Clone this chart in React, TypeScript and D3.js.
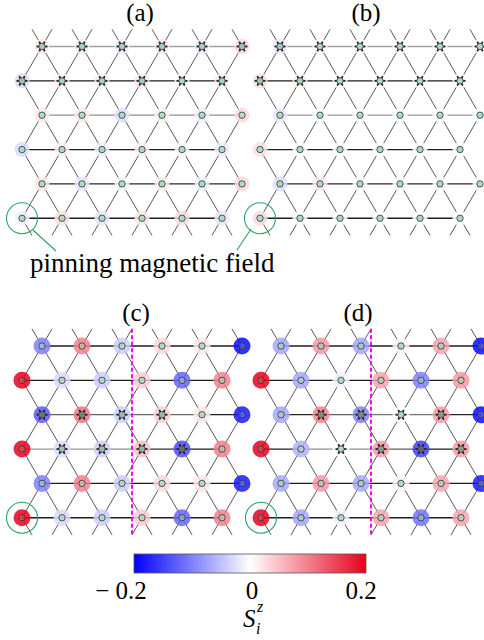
import { useMemo } from 'react';
import * as d3 from 'd3';

// S^z_i on a 6x6 triangular lattice, rows top to bottom, sites left to right
const SPIN_A = [
  [0.02, -0.015, -0.015, 0.02, -0.015, 0.03],
  [-0.03, 0.012, -0.012, 0.02, 0.0, -0.012],
  [0.02, 0.02, -0.025, 0.012, -0.012, 0.03],
  [-0.03, 0.012, -0.012, 0.012, 0.0, -0.015],
  [0.02, -0.018, -0.006, 0.012, -0.012, 0.03],
  [-0.012, 0.025, -0.018, 0.02, 0.03, -0.018],
];
const SPIN_B = [
  [-0.02, 0.006, 0.0, 0.0, 0.0, 0.0],
  [0.025, 0.012, 0.0, 0.0, 0.0, 0.0],
  [-0.02, 0.0, 0.0, 0.0, 0.0, 0.0],
  [0.025, 0.0, 0.0, 0.0, 0.0, 0.0],
  [-0.025, 0.018, 0.0, 0.0, 0.0, 0.0],
  [0.03, -0.006, 0.0, 0.0, 0.0, 0.0],
];
const SPIN_C = [
  [-0.1, 0.1, -0.04, 0.03, 0.02, -0.19],
  [0.2, -0.03, -0.04, 0.04, -0.12, 0.1],
  [-0.13, 0.11, -0.04, 0.04, 0.02, -0.18],
  [0.2, -0.03, -0.04, 0.05, -0.14, 0.1],
  [-0.1, 0.1, -0.04, 0.03, 0.02, -0.18],
  [0.2, -0.03, -0.04, 0.04, -0.12, 0.1],
];
const SPIN_D = [
  [-0.07, 0.08, -0.07, 0.01, 0.07, -0.19],
  [0.2, -0.07, -0.01, 0.07, -0.1, 0.08],
  [-0.07, 0.1, -0.1, 0.0, 0.08, -0.19],
  [0.2, -0.06, 0.0, 0.08, -0.15, 0.08],
  [-0.07, 0.08, -0.07, 0.01, 0.07, -0.18],
  [0.2, -0.07, -0.01, 0.07, -0.11, 0.07],
];

// horizontal bond darkness (0 light .. 1 dark), 5 bonds per row
const BOND_A = [
  [0.25, 0.25, 0.25, 0.25, 0.25],
  [0.95, 0.95, 0.95, 0.95, 0.95],
  [0.35, 0.35, 0.35, 0.35, 0.35],
  [0.95, 0.95, 0.95, 0.95, 0.95],
  [0.9, 0.9, 0.9, 0.9, 0.9],
  [0.95, 0.95, 0.95, 0.95, 0.95],
];
const BOND_B = [
  [0.25, 0.25, 0.25, 0.25, 0.25],
  [0.95, 0.95, 0.95, 0.95, 0.95],
  [0.3, 0.3, 0.3, 0.3, 0.3],
  [0.95, 0.95, 0.95, 0.95, 0.95],
  [0.9, 0.9, 0.9, 0.9, 0.9],
  [0.95, 0.95, 0.95, 0.95, 0.95],
];
const BOND_C = [
  [0.95, 0.95, 0.95, 0.95, 0.95],
  [0.95, 0.95, 0.95, 0.95, 0.95],
  [0.6, 0.6, 0.55, 0.55, 0.95],
  [0.3, 0.3, 0.35, 0.85, 0.95],
  [0.95, 0.95, 0.95, 0.95, 0.95],
  [0.95, 0.95, 0.95, 0.95, 0.95],
];
const BOND_D = [
  [0.95, 0.95, 0.95, 0.95, 0.95],
  [0.95, 0.95, 0.95, 0.95, 0.95],
  [0.9, 0.6, 0.5, 0.5, 0.9],
  [0.95, 0.35, 0.35, 0.6, 0.95],
  [0.95, 0.95, 0.95, 0.95, 0.95],
  [0.95, 0.95, 0.95, 0.95, 0.95],
];

// sites with strong local bond marks [row, col]
const STAR_A = [[0, 0], [0, 1], [0, 2], [0, 3], [0, 4], [0, 5], [1, 0], [1, 1], [1, 2], [1, 3], [1, 4], [1, 5]];
const STAR_B = [[0, 0], [0, 1], [0, 2], [0, 3], [0, 4], [0, 5], [1, 0], [1, 1], [1, 2], [1, 3], [1, 4], [1, 5]];
const STAR_C = [[2, 0], [2, 1], [2, 2], [2, 3], [3, 1], [3, 2], [3, 3], [3, 4]];
const STAR_D = [[2, 1], [2, 2], [2, 3], [2, 4], [3, 2], [3, 3], [3, 4], [3, 5]];

const CUT_AT = 2.75; // dashed cut, in bond lengths from the first site of an odd row
const CBAR_TICKS = [-0.2, 0, 0.2];
const CBAR_LABELS = ['\u2212 0.2', '0', '0.2'];

const NROW = 6;
const NCOL = 6;
const BOND = 40;
const ROWH = 34.35;
const FONT = "'Liberation Serif'";
const GREEN = '#25a35e';

const color = d3
  .scaleLinear<string>()
  .domain([-0.2, 0, 0.2])
  .range(['#0000ff', '#ffffff', '#e8001c'])
  .interpolate(d3.interpolateRgb)
  .clamp(true);

const bondColor = d3.scaleLinear<string>().domain([0, 1]).range(['#d2d2d2', '#151515']);

const PANELS = [
  { label: '(a)', spins: SPIN_A, bonds: BOND_A, stars: STAR_A, x0: 22, y0: 46.5, haloR: 7.5, labelX: 140, labelY: 21, cut: false },
  { label: '(b)', spins: SPIN_B, bonds: BOND_B, stars: STAR_B, x0: 260, y0: 46.5, haloR: 7.5, labelX: 366, labelY: 21, cut: false },
  { label: '(c)', spins: SPIN_C, bonds: BOND_C, stars: STAR_C, x0: 22, y0: 346, haloR: 8.5, labelX: 136, labelY: 321, cut: true },
  { label: '(d)', spins: SPIN_D, bonds: BOND_D, stars: STAR_D, x0: 261, y0: 346, haloR: 8.5, labelX: 358, labelY: 321, cut: true },
];

type Panel = (typeof PANELS)[number];

function latticeU(r: number, c: number) {
  return c + (r % 2 === 0 ? 0.5 : 0);
}

function Lattice({ panel }: { panel: Panel }) {
  const x = d3.scaleLinear().domain([0, 1]).range([panel.x0, panel.x0 + BOND]);
  const y = d3.scaleLinear().domain([0, 1]).range([panel.y0, panel.y0 + ROWH]);

  const diag = useMemo(() => {
    const segs: [number, number, number, number][] = [];
    for (let r = 0; r < NROW; r++) {
      for (let c = 0; c < NCOL; c++) {
        const u = latticeU(r, c);
        // down-left / down-right neighbours
        const targets = r % 2 === 0 ? [c, c + 1] : [c - 1, c];
        const nu = [u - 0.5, u + 0.5];
        targets.forEach((tc, k) => {
          if (tc < 0 || tc >= NCOL) return;
          if (r === NROW - 1) segs.push([u, r, (u + nu[k]) / 2, r + 0.5]);
          else segs.push([u, r, nu[k], r + 1]);
        });
        if (r === 0) {
          // half bonds to the periodic image above
          [c, c + 1].forEach((tc, k) => {
            if (tc >= NCOL) return;
            segs.push([u, 0, (u + nu[k]) / 2, -0.5]);
          });
        }
      }
    }
    return segs;
  }, []);

  const sites = panel.spins.flatMap((row, r) => row.map((s, c) => ({ r, c, s, u: latticeU(r, c) })));
  const dirs = d3.range(6).map((k) => (k * Math.PI) / 3);

  return (
    <g>
      {diag.map((d, i) => (
        <line key={`d${i}`} x1={x(d[0])} y1={y(d[1])} x2={x(d[2])} y2={y(d[3])} stroke="#4a4444" strokeWidth={0.9} />
      ))}
      {panel.bonds.map((row, r) =>
        row.map((b, c) => (
          <line
            key={`h${r}-${c}`}
            x1={x(latticeU(r, c))}
            x2={x(latticeU(r, c + 1))}
            y1={y(r)}
            y2={y(r)}
            stroke={bondColor(b)}
            strokeWidth={1.3}
          />
        ))
      )}
      {sites.map((d) => (
        <circle key={`o${d.r}-${d.c}`} cx={x(d.u)} cy={y(d.r)} r={panel.haloR} fill={color(d.s)} opacity={0.85} />
      ))}
      {panel.stars.map(([r, c]) => (
        <g key={`s${r}-${c}`} transform={`translate(${x(latticeU(r, c))},${y(r)})`}>
          {dirs.map((a, k) => (
            <line key={k} x1={0} y1={0} x2={5.5 * Math.cos(a)} y2={5.5 * Math.sin(a)} stroke="#2a1c1c" strokeWidth={1.8} />
          ))}
        </g>
      ))}
      {sites.map((d) => (
        <circle
          key={`p${d.r}-${d.c}`}
          cx={x(d.u)}
          cy={y(d.r)}
          r={3.2}
          fill="#a9dcbe"
          fillOpacity={1 - 0.8 * Math.min(1, Math.abs(d.s) / 0.2)}
          stroke="#333"
          strokeWidth={0.8}
        />
      ))}
      {panel.cut && (
        <line
          x1={x(CUT_AT)}
          x2={x(CUT_AT)}
          y1={y(-0.5)}
          y2={y(NROW - 0.5)}
          stroke="#ff00ff"
          strokeWidth={2}
          strokeDasharray="4 2.5"
        />
      )}
      <circle cx={x(0)} cy={y(NROW - 1)} r={15.5} fill="none" stroke={GREEN} strokeWidth={1.1} />
      <text x={panel.labelX} y={panel.labelY} textAnchor="middle" style={{ fontFamily: FONT, fontSize: 25 }}>
        {panel.label}
      </text>
    </g>
  );
}

function ColorBar() {
  const cx = d3.scaleLinear().domain([-0.2, 0.2]).range([134, 366]);
  const stops = d3.range(0, 1.0001, 0.05);
  return (
    <g>
      <defs>
        <linearGradient id="cbar" x1="0" x2="1" y1="0" y2="0">
          {stops.map((t) => (
            <stop key={t} offset={t} stopColor={color(-0.2 + 0.4 * t)} />
          ))}
        </linearGradient>
      </defs>
      <rect x={cx(-0.2)} y={554} width={cx(0.2) - cx(-0.2)} height={19} fill="url(#cbar)" stroke="#555" strokeWidth={0.8} />
      {CBAR_TICKS.map((v, i) => (
        <text
          key={v}
          x={cx(v) + (i === 0 ? -13 : i === 2 ? -5 : 2)}
          y={599}
          textAnchor="middle"
          style={{ fontFamily: FONT, fontSize: 25 }}
        >
          {CBAR_LABELS[i]}
        </text>
      ))}
      <text x={cx(0) - 7} y={627} style={{ fontFamily: FONT, fontSize: 25, fontStyle: 'italic' }}>
        S
      </text>
      <text x={cx(0) + 7} y={612} style={{ fontFamily: FONT, fontSize: 16, fontStyle: 'italic' }}>
        z
      </text>
      <text x={cx(0) + 6} y={634} style={{ fontFamily: FONT, fontSize: 16, fontStyle: 'italic' }}>
        i
      </text>
    </g>
  );
}

export default function App() {
  return (
    <svg
      width={484}
      height={640}
      viewBox="0 0 484 640"
      style={{ position: 'absolute', left: 0, top: 0, background: '#fff', display: 'block' }}
    >
      {PANELS.map((p) => (
        <Lattice key={p.label} panel={p} />
      ))}
      <line x1={33} y1={230} x2={56} y2={251} stroke={GREEN} strokeWidth={1.1} />
      <line x1={251} y1={229} x2={237} y2={250} stroke={GREEN} strokeWidth={1.1} />
      <text x={30} y={272} style={{ fontFamily: FONT, fontSize: 27 }}>
        pinning magnetic field
      </text>
      <ColorBar />
    </svg>
  );
}
